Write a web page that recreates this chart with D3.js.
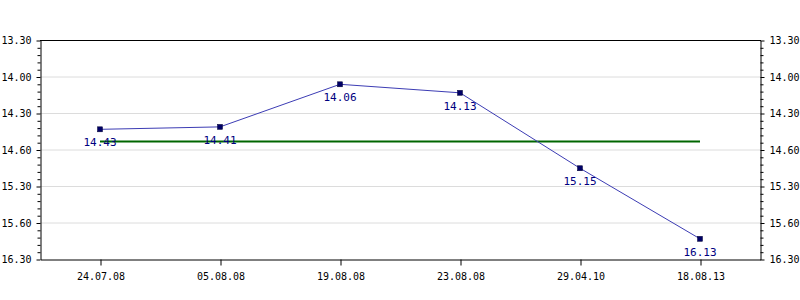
<!DOCTYPE html>
<html>
<head>
<meta charset="utf-8">
<script src="https://cdn.jsdelivr.net/npm/d3@7"></script>
<style>
    body { margin: 0; background: #fff; }
    text { font-family: "DejaVu Sans Mono", monospace; font-size: 10px; }
</style>
</head>
<body>
<div id="chart"></div>
<script>

// data
var dates = ["24.07.08", "05.08.08", "19.08.08", "23.08.08", "29.04.10", "18.08.13"];
var times = ["14.43", "14.41", "14.06", "14.13", "15.15", "16.13"];
var meanTime = "14.53";

// y axis: min.sec values, ticks every 30 sec (labels as printed on the chart)
var yTickValues = [810, 840, 870, 900, 930, 960, 990];
var yTickLabels = ["13.30", "14.00", "14.30", "14.60", "15.30", "15.60", "16.30"];

function toSec(s) {
    var p = s.split(".");
    return parseInt(p[0]) * 60 + parseInt(p[1]);
}

var data = dates.map(function (d, i) {
    return { date: d, label: times[i], sec: toSec(times[i]) };
});

var margin = { top: 40, right: 40, bottom: 41, left: 40 },
    width = 800 - margin.left - margin.right,
    height = 300 - margin.top - margin.bottom;

var svg = d3.select("#chart")
    .append("svg")
    .attr("width", 800)
    .attr("height", 300)
    .append("g")
    .attr("transform", "translate(" + margin.left + "," + margin.top + ")");

var x = d3.scalePoint().domain(dates).range([0, width]).padding(0.5);
var y = d3.scaleLinear().domain([810, 990]).range([0.5, height + 0.5]);

var minorTicks = d3.range(810, 991, 6).filter(function (v) { return yTickValues.indexOf(v) < 0; });

// grid lines
svg.append("g")
    .selectAll("line")
    .data(yTickValues.slice(1, -1))
    .join("line")
    .attr("x1", 0)
    .attr("x2", width)
    .attr("y1", function (d) { return y(d) })
    .attr("y2", function (d) { return y(d) })
    .attr("stroke", "#dcdcdc")
    .attr("stroke-width", 1);

// left axis
var yAxisLeft = d3.axisLeft(y)
    .tickValues(yTickValues)
    .tickFormat(function (d, i) { return yTickLabels[i] })
    .tickSize(4)
    .tickPadding(5)
    .tickSizeOuter(0);

svg.append("g")
    .attr("transform", "translate(0.5,0)")
    .call(yAxisLeft);

svg.append("g")
    .attr("transform", "translate(0.5,0)")
    .call(d3.axisLeft(y).tickValues(minorTicks).tickSize(3).tickFormat("").tickSizeOuter(0))
    .select(".domain").remove();

// right axis
var yAxisRight = d3.axisRight(y)
    .tickValues(yTickValues)
    .tickFormat(function (d, i) { return yTickLabels[i] })
    .tickSize(4)
    .tickPadding(5)
    .tickSizeOuter(0);

svg.append("g")
    .attr("transform", "translate(" + (width + 0.5) + ",0)")
    .call(yAxisRight);

svg.append("g")
    .attr("transform", "translate(" + (width + 0.5) + ",0)")
    .call(d3.axisRight(y).tickValues(minorTicks).tickSize(3).tickFormat("").tickSizeOuter(0))
    .select(".domain").remove();

// top border
svg.append("line")
    .attr("x1", 0)
    .attr("x2", width + 1)
    .attr("y1", 0.5)
    .attr("y2", 0.5)
    .attr("stroke", "#000");

// bottom axis
svg.append("g")
    .attr("transform", "translate(0.5," + (height + 0.5) + ")")
    .call(d3.axisBottom(x).tickSize(6).tickPadding(5).tickSizeOuter(0))
    .selectAll("text")
    .attr("dy", "0.9em");

svg.selectAll(".domain").attr("stroke", "#000");
svg.selectAll(".tick line").attr("stroke", "#000");
svg.selectAll(".tick text").attr("fill", "#000").style("font-size", "10px");

// mean line
svg.append("line")
    .attr("x1", x(dates[0]))
    .attr("x2", x(dates[dates.length - 1]))
    .attr("y1", y(toSec(meanTime)))
    .attr("y2", y(toSec(meanTime)))
    .attr("stroke", "#006600")
    .attr("stroke-width", 2);

// the line
svg.append("path")
    .datum(data)
    .attr("fill", "none")
    .attr("stroke", "#3c3cb4")
    .attr("stroke-width", 1)
    .attr("d", d3.line()
        .x(function (d) { return x(d.date) })
        .y(function (d) { return y(d.sec) }));

// markers
svg.selectAll(".marker")
    .data(data)
    .join("rect")
    .attr("class", "marker")
    .attr("x", function (d) { return x(d.date) - 2.5 })
    .attr("y", function (d) { return y(d.sec) - 2.5 })
    .attr("width", 5)
    .attr("height", 5)
    .attr("fill", "#000066")
    .attr("stroke", "#000033")
    .attr("stroke-width", 0.5);

// value labels
svg.selectAll(".vlabel")
    .data(data)
    .join("text")
    .attr("class", "vlabel")
    .attr("x", function (d) { return x(d.date) })
    .attr("y", function (d) { return y(d.sec) + 17 })
    .attr("text-anchor", "middle")
    .attr("fill", "#000080")
    .style("font-size", "11px")
    .text(function (d) { return d.label });

</script>
</body>
</html>
